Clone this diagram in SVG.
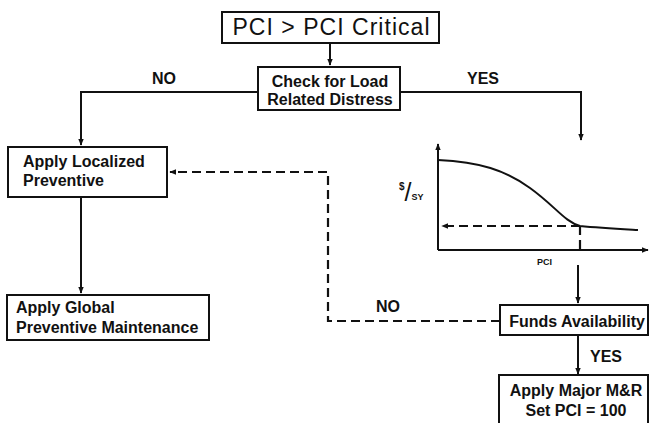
<svg xmlns="http://www.w3.org/2000/svg" width="650" height="423" viewBox="0 0 650 423">
  <defs>
    <marker id="arr" viewBox="0 0 10 10" refX="9" refY="5" markerWidth="7" markerHeight="7" markerUnits="userSpaceOnUse" orient="auto">
      <path d="M0,1 L10,5 L0,9 z" fill="#111"/>
    </marker>
  </defs>
  <style>
    .box { fill: #fff; stroke: #111; stroke-width: 2; }
    .lbl { font-family: "Liberation Sans", Arial, sans-serif; font-weight: bold; font-size: 16px; fill: #111; }
    .line { fill: none; stroke: #111; stroke-width: 2; }
    .dash { fill: none; stroke: #111; stroke-width: 2.2; stroke-dasharray: 9 5; }
  </style>
  <rect width="650" height="423" fill="#fff"/>

  <g id="connectors">
    <path class="line" d="M330,43 V65" marker-end="url(#arr)"/>
    <path class="line" d="M258,92 H81 V145" marker-end="url(#arr)"/>
    <path class="line" d="M400,92 H581 V140" marker-end="url(#arr)"/>
    <path class="line" d="M81,197 V293" marker-end="url(#arr)"/>
    <path class="line" d="M578,265 V303" marker-end="url(#arr)"/>
    <path class="line" d="M578,335 V374" marker-end="url(#arr)"/>
    <path class="dash" d="M500,321 H328 V172 H170" marker-end="url(#arr)"/>
    <text class="lbl" x="152" y="84">NO</text>
    <text class="lbl" x="467" y="84">YES</text>
    <text class="lbl" x="376" y="312">NO</text>
    <text class="lbl" x="590" y="362">YES</text>
  </g>

  <g id="pci-critical">
    <rect class="box" x="222" y="12" width="217" height="31"/>
    <text x="331" y="35" text-anchor="middle" font-family="Liberation Sans, Arial, sans-serif" font-size="23" textLength="197" lengthAdjust="spacing" fill="#111">PCI &gt; PCI Critical</text>
  </g>

  <g id="check-load">
    <rect class="box" x="258" y="67" width="142" height="43"/>
    <text class="lbl" x="330" y="87" text-anchor="middle">Check for Load</text>
    <text class="lbl" x="330" y="105" text-anchor="middle">Related Distress</text>
  </g>

  <g id="apply-localized">
    <rect class="box" x="8" y="147" width="159" height="50"/>
    <text class="lbl" x="23" y="167">Apply Localized</text>
    <text class="lbl" x="23" y="186">Preventive</text>
  </g>

  <g id="apply-global">
    <rect class="box" x="7" y="295" width="202" height="45"/>
    <text class="lbl" x="16" y="313">Apply Global</text>
    <text class="lbl" x="16" y="333">Preventive Maintenance</text>
  </g>

  <g id="cost-curve">
    <path class="line" d="M438,250 V144" marker-end="url(#arr)"/>
    <path class="line" d="M438,250 H648" marker-end="url(#arr)"/>
    <path class="line" d="M438,160 C480,162 505,170 530,188 C555,206 565,222 580,226 C600,228 620,229 638,230"/>
    <path class="dash" d="M580,226 H442" stroke-dasharray="8 4" marker-end="url(#arr)"/>
    <path class="dash" d="M580,226 V250" stroke-dasharray="8 4"/>
    <text x="537" y="265" font-family="Liberation Sans, Arial, sans-serif" font-weight="bold" font-size="9" fill="#111">PCI</text>
    <!-- cost per square yard axis label -->
    <text x="399" y="190" font-family="Liberation Sans, Arial, sans-serif" font-weight="bold" fill="#111"><tspan font-size="10">$</tspan><tspan font-size="25" font-weight="normal" dy="11">/</tspan><tspan font-size="9" dy="-1">SY</tspan></text>
  </g>

  <g id="funds">
    <rect class="box" x="500" y="305" width="148" height="30"/>
    <text class="lbl" x="577" y="327" text-anchor="middle">Funds Availability</text>
  </g>

  <g id="major-mr">
    <rect class="box" x="499" y="375" width="149" height="55"/>
    <text class="lbl" x="576" y="396" text-anchor="middle">Apply Major M&amp;R</text>
    <text class="lbl" x="576" y="416" text-anchor="middle">Set PCI = 100</text>
  </g>
</svg>
